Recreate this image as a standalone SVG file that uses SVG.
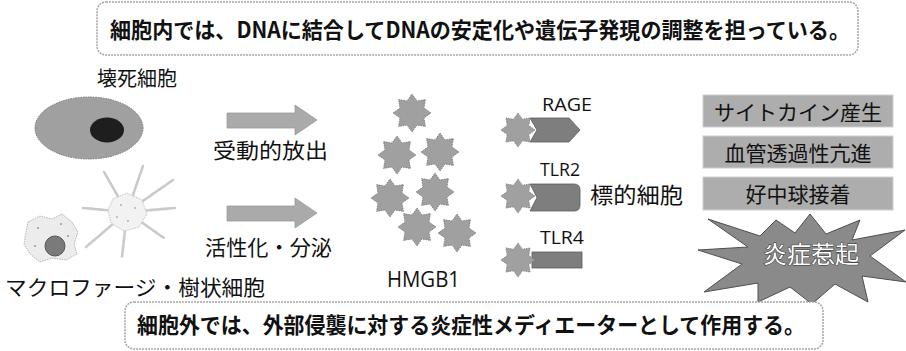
<svg xmlns="http://www.w3.org/2000/svg" width="906" height="351" viewBox="0 0 906 351">
  <style>
    .jp { font-family: "Noto Sans CJK JP", "Noto Sans", sans-serif; fill: #111; }
    .lat { font-family: "Open Sans", "Noto Sans", "Liberation Sans", sans-serif; fill: #111; }
    .note { fill: #fff; stroke: #a5a5a5; stroke-width: 1.5; stroke-dasharray: 2 1; }
    .big-arrow { fill: #aaaaaa; stroke: #9a9a9a; stroke-width: 0.8; }
    .hmgb { fill: #a0a0a0; stroke: #727272; stroke-width: 0.8; stroke-dasharray: 1.5 1; }
    .receptor { fill: #7e7e7e; stroke: #5c5c5c; stroke-width: 0.8; }
    .effect { fill: #adadad; stroke: #cfcfcf; stroke-width: 1; }
    .arm { stroke: #cacaca; stroke-width: 2.6; stroke-linecap: round; fill: none; stroke-dasharray: 3 0.8; }
  </style>
  <defs>
    <path id="star8" d="M0,-19 L4.97,-12.01 L13.44,-13.44 L12.01,-4.97 L19,0 L12.01,4.97 L13.44,13.44 L4.97,12.01 L0,19 L-4.97,12.01 L-13.44,13.44 L-12.01,4.97 L-19,0 L-12.01,-4.97 L-13.44,-13.44 L-4.97,-12.01 Z"/>
  </defs>

  <!-- intracellular role note -->
  <g id="note-intracellular">
    <rect class="note" x="97" y="2" width="761" height="53" rx="9"/>
    <text class="jp" x="110" y="38" font-size="22" font-weight="700" textLength="740" lengthAdjust="spacingAndGlyphs">細胞内では、DNAに結合してDNAの安定化や遺伝子発現の調整を担っている。</text>
  </g>

  <!-- necrotic cell -->
  <g id="necrotic-cell">
    <text class="jp" x="97" y="86" font-size="20">壊死細胞</text>
    <ellipse cx="89" cy="128" rx="54" ry="31" fill="#a0a0a0" stroke="#777" stroke-width="1" stroke-dasharray="1.5 1"/>
    <ellipse cx="107" cy="130" rx="17" ry="12.5" fill="#1e1e1e"/>
  </g>

  <!-- macrophage and dendritic cell -->
  <g id="immune-cells">
    <path d="M28,222 L40,216 L52,219 L62,214 L72,222 L78,232 L74,244 L77,254 L66,260 L52,258 L40,262 L30,254 L24,244 L26,232 Z" fill="#ececec" stroke="#b5b5b5" stroke-width="1" stroke-dasharray="1.5 1"/>
    <circle cx="55" cy="246" r="10" fill="#7a7a7a" stroke="#555" stroke-width="1"/>
    <g fill="#999">
      <circle cx="38" cy="228" r="1"/><circle cx="61" cy="224" r="1"/><circle cx="35" cy="246" r="1"/><circle cx="68" cy="236" r="1"/>
    </g>
    <g class="arm">
      <path d="M127,212 L143,166"/>
      <path d="M127,212 L173,180"/>
      <path d="M127,212 L175,208"/>
      <path d="M127,212 L164,238"/>
      <path d="M127,212 L122,257"/>
      <path d="M127,212 L86,247"/>
      <path d="M127,212 L83,208"/>
      <path d="M127,212 L104,172"/>
    </g>
    <path d="M113,199 L127,193 L142,200 L147,214 L139,227 L124,231 L111,223 L108,210 Z" fill="#f2f2f2" stroke="#c4c4c4" stroke-width="1" stroke-dasharray="1.5 1"/>
    <g fill="#aaa">
      <circle cx="121" cy="205" r="0.9"/><circle cx="135" cy="208" r="0.9"/><circle cx="128" cy="221" r="0.9"/><circle cx="117" cy="217" r="0.9"/>
    </g>
    <text class="jp" x="5" y="295" font-size="21" textLength="260" lengthAdjust="spacingAndGlyphs">マクロファージ・樹状細胞</text>
  </g>

  <!-- release pathways -->
  <g id="passive-release">
    <path class="big-arrow" d="M227,113 H295 V105 L317,120 L295,135 V128 H227 Z"/>
    <text class="jp" x="213" y="158" font-size="21" textLength="115" lengthAdjust="spacingAndGlyphs">受動的放出</text>
  </g>
  <g id="active-secretion">
    <path class="big-arrow" d="M227,206 H295 V198 L317,213 L295,228 V221 H227 Z"/>
    <text class="jp" x="205" y="255" font-size="21" textLength="127" lengthAdjust="spacingAndGlyphs">活性化・分泌</text>
  </g>

  <!-- HMGB1 molecules -->
  <g id="hmgb1">
    <use href="#star8" class="hmgb" x="412" y="113"/>
    <use href="#star8" class="hmgb" x="397" y="155"/>
    <use href="#star8" class="hmgb" x="440" y="152"/>
    <use href="#star8" class="hmgb" x="390" y="198"/>
    <use href="#star8" class="hmgb" x="435" y="192"/>
    <use href="#star8" class="hmgb" x="417" y="227"/>
    <use href="#star8" class="hmgb" x="457" y="233"/>
    <text class="lat" x="387" y="287" font-size="21" textLength="73" lengthAdjust="spacingAndGlyphs">HMGB1</text>
  </g>

  <!-- receptors on target cell -->
  <g id="receptor-rage">
    <text class="lat" x="542" y="111" font-size="18.5" textLength="50" lengthAdjust="spacingAndGlyphs">RAGE</text>
    <path class="receptor" d="M530,118 H569 L580,130 L569,142 H530 L537,130 Z"/>
    <use href="#star8" class="hmgb" transform="translate(518,130) scale(0.9)"/>
  </g>
  <g id="receptor-tlr2">
    <text class="lat" x="540" y="176" font-size="18.5" textLength="40" lengthAdjust="spacingAndGlyphs">TLR2</text>
    <path class="receptor" d="M530,184 H574 Q580,184 580,190 V205 Q580,211 574,211 H530 L537,197.5 Z"/>
    <use href="#star8" class="hmgb" transform="translate(518,196) scale(0.9)"/>
  </g>
  <g id="receptor-tlr4">
    <text class="lat" x="540" y="244" font-size="18.5" textLength="44" lengthAdjust="spacingAndGlyphs">TLR4</text>
    <rect class="receptor" x="532" y="252" width="50" height="16"/>
    <use href="#star8" class="hmgb" transform="translate(518,260) scale(0.9)"/>
  </g>
  <g id="target-cell">
    <text class="jp" x="590" y="203" font-size="22" textLength="93" lengthAdjust="spacingAndGlyphs">標的細胞</text>
  </g>

  <!-- downstream effects -->
  <g id="effect-cytokine">
    <rect class="effect" x="703" y="95" width="190" height="32"/>
    <text class="jp" x="798" y="120" font-size="21" text-anchor="middle">サイトカイン産生</text>
  </g>
  <g id="effect-permeability">
    <rect class="effect" x="703" y="136" width="190" height="32"/>
    <text class="jp" x="798" y="161" font-size="21" text-anchor="middle">血管透過性亢進</text>
  </g>
  <g id="effect-adhesion">
    <rect class="effect" x="703" y="177" width="190" height="33"/>
    <text class="jp" x="798" y="202" font-size="21" text-anchor="middle">好中球接着</text>
  </g>
  <g id="inflammation">
    <polygon points="708,219 760,236 776,220 795,233 810,214 826,234 860,220 852,240 905,230 870,256 906,282 862,276 868,302 835,284 812,304 790,287 758,302 758,283 704,292 742,264 698,250 748,247" fill="#8a8a8a" stroke="#4f4f4f" stroke-width="1"/>
    <text class="jp" x="811" y="263" font-size="24" text-anchor="middle" stroke="#333" stroke-width="1" paint-order="stroke" style="fill:#fff">炎症惹起</text>
  </g>

  <!-- extracellular role note -->
  <g id="note-extracellular">
    <rect class="note" x="125" y="302" width="698" height="47" rx="9"/>
    <text class="jp" x="137" y="333" font-size="22" font-weight="700" textLength="668" lengthAdjust="spacingAndGlyphs">細胞外では、外部侵襲に対する炎症性メディエーターとして作用する。</text>
  </g>
</svg>
